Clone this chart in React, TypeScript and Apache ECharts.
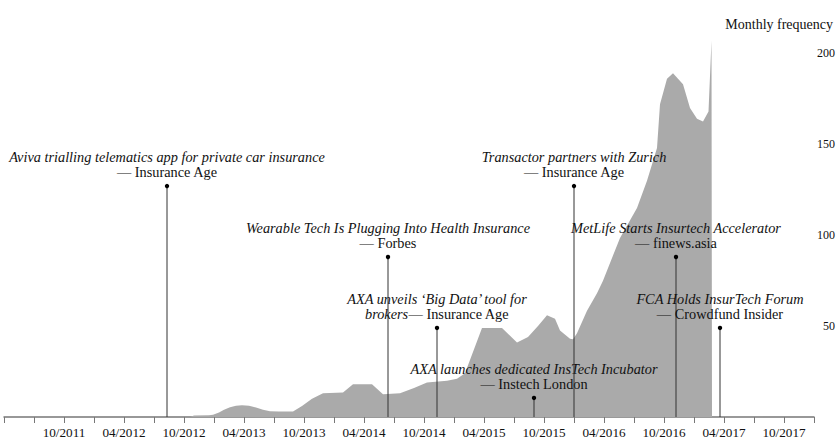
import React, { useEffect, useRef } from "react";
import * as echarts from "echarts";

// x values are months counted from 10/2011 (0 = 10/2011)
const xTickLabels = [
  "10/2011", "04/2012", "10/2012", "04/2013", "10/2013", "04/2014", "10/2014",
  "04/2015", "10/2015", "04/2016", "10/2016", "04/2017", "10/2017",
];
const yTickLabels = [50, 100, 150, 200];

const areaMonths = [
  12.6, 13.0, 14.5, 14.9, 15.5, 16.0, 16.6, 17.2, 17.8, 18.5,
  19.2, 19.9, 20.6, 21.5, 22.9, 23.8, 24.8, 25.9, 27.9, 28.9,
  30.8, 31.9, 33.6, 35.0, 36.3, 38.3, 39.3, 40.1, 41.8, 43.8,
  45.3, 46.4, 47.4, 48.3, 49.1, 49.6, 50.6, 50.9, 51.3, 52.3,
  53.3, 53.9, 55.6, 57.3, 58.3, 59.3, 59.6, 60.3, 60.9, 61.9,
  62.6, 63.3, 63.9, 64.45, 64.75, 64.8,
];
const areaValues = [
  0, 0.8, 1, 1.2, 2.5, 4, 5.3, 6.2, 6.5, 6.2,
  5.2, 4, 3.2, 3, 3, 6, 10, 13, 13.5, 18,
  18, 12.5, 13, 16, 19, 20, 21, 24, 49, 49,
  41, 44, 50, 56, 54, 47.6, 43, 42.7, 46, 58.5,
  68, 75, 98.5, 115, 130, 148, 172, 186, 189, 183,
  170, 164, 162.5, 168, 207, 0,
];

const annotationMonths = [10.3, 32.4, 37.3, 47.0, 51.0, 61.2, 65.6];
const annotationValues = [127, 88, 49, 10.5, 127, 88, 49];
const annotationTitles = [
  "Aviva trialling telematics app for private car insurance",
  "Wearable Tech Is Plugging Into Health Insurance",
  "AXA unveils \u2018Big Data\u2019 tool for",
  "AXA launches dedicated InsTech Incubator",
  "Transactor partners with Zurich",
  "MetLife Starts Insurtech Accelerator",
  "FCA Holds InsurTech Forum",
];
const annotationTitleWraps = ["", "", "brokers", "", "", "", ""];
const annotationSources = [
  "\u2014 Insurance Age",
  "\u2014 Forbes",
  "\u2014 Insurance Age",
  "\u2014 Instech London",
  "\u2014 Insurance Age",
  "\u2014 finews.asia",
  "\u2014 Crowdfund Insider",
];

const FONT = '"Liberation Serif", "DejaVu Serif", serif';
const ANN_SIZE = 14.3;

export default function App() {
  const ref = useRef<HTMLDivElement>(null);
  useEffect(() => {
    if (!ref.current) return;
    const chart = echarts.init(ref.current, undefined, { renderer: "svg" });
    const areaData = areaMonths.map((m, i) => [m, areaValues[i]]);
    const annData = annotationMonths.map((m, i) => [m, annotationValues[i]]);
    chart.setOption({
      animation: false,
      backgroundColor: "#ffffff",
      title: {
        text: "Monthly frequency",
        right: 0,
        top: 12,
        textStyle: { fontFamily: FONT, fontSize: 14, fontWeight: "normal", color: "#111" },
      },
      grid: { left: 4, right: 24, top: 17, bottom: 27, containLabel: false },
      xAxis: {
        type: "value",
        min: -6,
        max: 75,
        interval: 3,
        axisLine: { show: true, lineStyle: { color: "#777", width: 1.5 } },
        axisTick: { show: true, length: 6, lineStyle: { color: "#777" } },
        splitLine: { show: false },
        axisLabel: {
          fontFamily: FONT,
          fontSize: 13.2,
          color: "#111",
          margin: 9,
          formatter: (v: number) => {
            const k = v / 6;
            if (Number.isInteger(k) && k >= 0 && k < xTickLabels.length) return xTickLabels[k];
            return "";
          },
        },
      },
      yAxis: {
        type: "value",
        position: "right",
        min: 0,
        max: 220,
        interval: 50,
        axisLine: { show: false, lineStyle: { color: "#111" } },
        axisTick: { show: false },
        splitLine: { show: false },
        axisLabel: {
          fontFamily: FONT,
          fontSize: 12,
          color: "#111111",
          align: "right",
          margin: 21,
          formatter: (v: number) => (yTickLabels.includes(v) ? `{a|${v}}` : ""),
          rich: {
            a: { fontFamily: FONT, fontSize: 12, color: "#111111" },
          },
        },
      },
      series: [
        {
          type: "line",
          data: areaData,
          symbol: "none",
          smooth: false,
          lineStyle: { width: 0, color: "#aaaaaa" },
          areaStyle: { color: "#aaaaaa", opacity: 1 },
          z: 1,
        },
        {
          type: "custom",
          data: annData,
          clip: false,
          z: 5,
          renderItem: (params: any, api: any) => {
            const i = params.dataIndex;
            const m = api.value(0);
            const v = api.value(1);
            const base = api.coord([m, 0]);
            const top = api.coord([m, v]);
            const wrap = annotationTitleWraps[i];
            const src = annotationSources[i];
            const secondLine: any = wrap
              ? {
                  text: `{i|${wrap}}{n|${src}}`,
                  rich: {
                    i: { fontFamily: FONT, fontSize: ANN_SIZE, fontStyle: "italic", fill: "#111", color: "#111" },
                    n: { fontFamily: FONT, fontSize: ANN_SIZE, fill: "#111", color: "#111" },
                  },
                  align: "center",
                  verticalAlign: "middle",
                }
              : {
                  text: src,
                  fontFamily: FONT,
                  fontSize: ANN_SIZE,
                  fill: "#111",
                  align: "center",
                  verticalAlign: "middle",
                };
            return {
              type: "group",
              children: [
                {
                  type: "line",
                  shape: { x1: base[0], y1: base[1], x2: top[0], y2: top[1] },
                  style: { stroke: "#333", lineWidth: 1 },
                },
                {
                  type: "circle",
                  shape: { cx: top[0], cy: top[1], r: 2.2 },
                  style: { fill: "#000" },
                },
                {
                  type: "text",
                  x: top[0],
                  y: top[1] - 29,
                  style: {
                    text: annotationTitles[i],
                    fontFamily: FONT,
                    fontSize: ANN_SIZE,
                    fontStyle: "italic",
                    fill: "#111",
                    align: "center",
                    verticalAlign: "middle",
                  },
                },
                {
                  type: "text",
                  x: top[0],
                  y: top[1] - 14,
                  style: secondLine,
                },
              ],
            };
          },
        },
      ],
    });
    return () => chart.dispose();
  }, []);
  return (
    <div
      ref={ref}
      style={{ position: "fixed", left: 0, top: 0, width: 838, height: 444 }}
    />
  );
}
